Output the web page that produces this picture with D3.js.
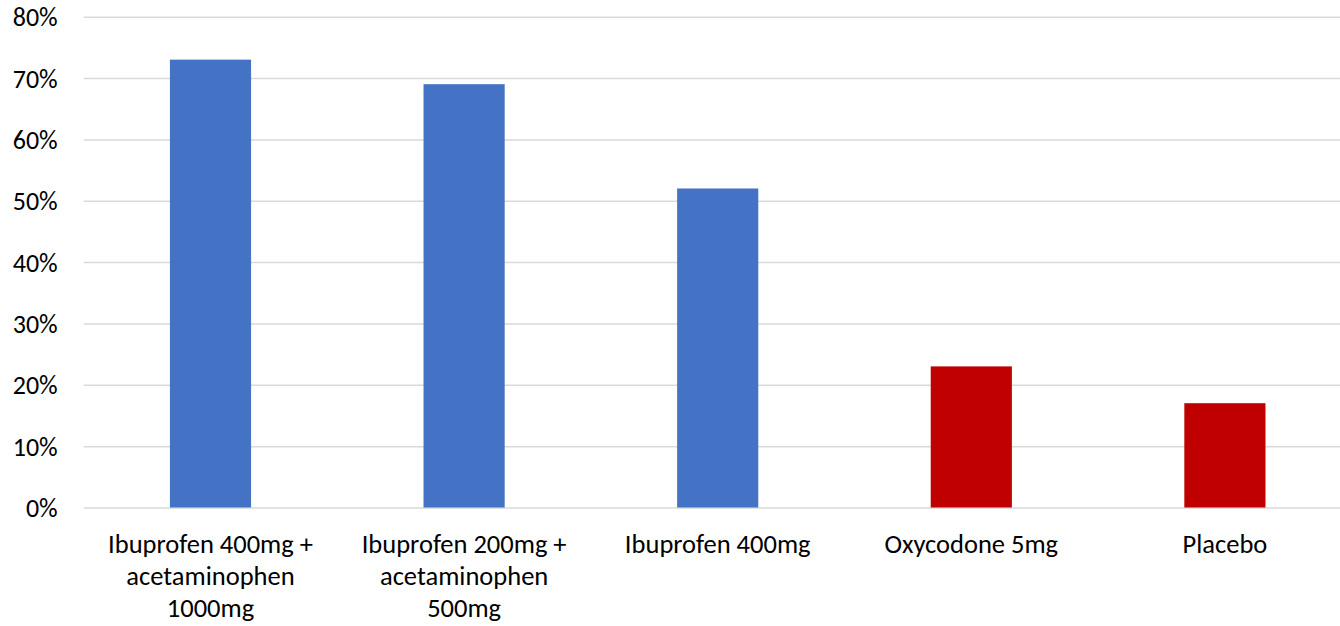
<!DOCTYPE html>
<html>
<head>
<meta charset="utf-8">
<script src="https://cdn.jsdelivr.net/npm/d3@7"></script>
<style>
  html, body { margin: 0; padding: 0; background: #fff; }
  svg { display: block; }
  text { font-family: Calibri, Carlito, Lato, "Liberation Sans", sans-serif; fill: #000; }
</style>
</head>
<body>
<svg id="chart" width="1340" height="626"></svg>
<script>
// Treatment groups (line breaks mark how each axis label wraps)
const categories = [
  "Ibuprofen 400mg +\nacetaminophen\n1000mg",
  "Ibuprofen 200mg +\nacetaminophen\n500mg",
  "Ibuprofen 400mg",
  "Oxycodone 5mg",
  "Placebo"
];
// Share of patients per group, in percent
const values = [73, 69, 52, 23, 17];
// Bar fill per group
const barColors = ["#4472C4", "#4472C4", "#4472C4", "#C00000", "#C00000"];
// Value-axis ticks, in percent
const yTicks = [0, 10, 20, 30, 40, 50, 60, 70, 80];

const svg = d3.select("#chart");
const plot = { left: 83.7, right: 1351.7, top: 16.7, bottom: 507.5 };

const x = d3.scaleBand()
  .domain(categories)
  .range([plot.left, plot.right])
  .paddingInner(0.68)
  .paddingOuter(0.34);

const y = d3.scaleLinear()
  .domain([0, 80])
  .range([plot.bottom, plot.top]);

// Horizontal gridlines with percentage labels
const yAxis = d3.axisLeft(y)
  .tickValues(yTicks)
  .tickFormat(d => d + "%")
  .tickSize(-(plot.right - plot.left))
  .tickPadding(26);

const gy = svg.append("g")
  .attr("transform", `translate(${plot.left},0)`)
  .call(yAxis);
gy.select(".domain").remove();
gy.selectAll(".tick line")
  .attr("stroke", "#d9d9d9")
  .attr("stroke-width", 1.5);
gy.selectAll(".tick text")
  .attr("font-size", 26)
  .attr("dy", "0.35em")
  .style("font-family", "Calibri, Carlito, Lato, 'Liberation Sans', sans-serif");

// Bars
svg.append("g")
  .selectAll("rect")
  .data(values)
  .join("rect")
  .attr("x", (d, i) => x(categories[i]))
  .attr("width", x.bandwidth())
  .attr("y", d => y(d))
  .attr("height", d => y(0) - y(d))
  .attr("fill", (d, i) => barColors[i]);

// Category labels under the bars, centred and wrapped
const gx = svg.append("g")
  .attr("transform", `translate(0,${plot.bottom})`)
  .call(d3.axisBottom(x).tickSize(0).tickFormat(""));
gx.select(".domain").remove();

const lineHeight = 32;
gx.selectAll(".tick").each(function(cat) {
  const t = d3.select(this).append("text")
    .attr("text-anchor", "middle")
    .attr("font-size", 26.5)
    .attr("y", 45.5);
  cat.split("\n").forEach((line, k) => {
    t.append("tspan")
      .attr("x", 0)
      .attr("dy", k === 0 ? 0 : lineHeight)
      .text(line);
  });
});
</script>
</body>
</html>
